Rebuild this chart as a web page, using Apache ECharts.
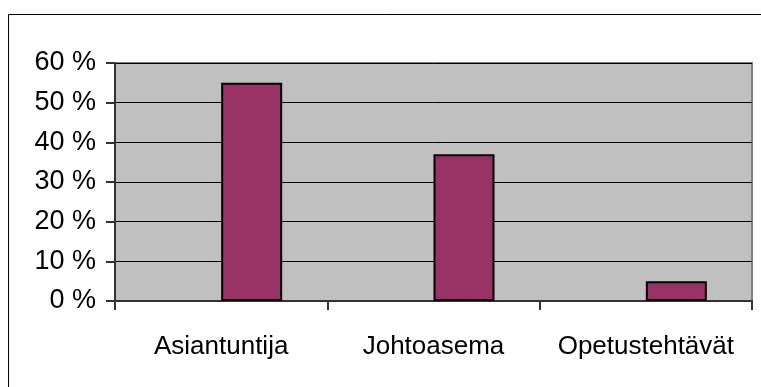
<!DOCTYPE html>
<html>
<head>
<meta charset="utf-8">
<script src="https://cdn.jsdelivr.net/npm/echarts@6/dist/echarts.min.js"></script>
<style>
  html, body { margin: 0; padding: 0; background: #fff; }
  #chart { width: 761px; height: 387px; }
</style>
</head>
<body>
<div id="chart"></div>
<script>
// kategoriat ja arvot (%)
const categories = ["Asiantuntija", "Johtoasema", "Opetustehtävät"];
const emptyValues = [null, null, null]; // tyhjä sarja, Excel-kaavion vasen paikka
const values = [55, 37, 5];
const yTicks = [0, 10, 20, 30, 40, 50, 60];

const font = "Liberation Sans, Arial, sans-serif";

let myChart = echarts.init(document.getElementById("chart"));

const option = {
  animation: false,
  graphic: [
    {
      type: "rect",
      silent: true,
      shape: { x: 8.5, y: 14.5, width: 800, height: 400 },
      style: { fill: "none", stroke: "#000", lineWidth: 1 }
    }
  ],
  grid: {
    left: 115,
    top: 63,
    right: 9,
    bottom: 86,
    show: true,
    backgroundColor: "#C0C0C0",
    borderColor: "#808080",
    borderWidth: 2
  },
  xAxis: {
    type: "category",
    data: categories,
    axisLine: { lineStyle: { color: "#333", width: 2 } },
    axisTick: { show: true, length: 9, alignWithLabel: false, lineStyle: { color: "#333", width: 2 } },
    axisLabel: { interval: 0, color: "#000", fontSize: 26, fontFamily: font, margin: 33 },
    splitLine: { show: false }
  },
  yAxis: {
    type: "value",
    min: yTicks[0],
    max: yTicks[yTicks.length - 1],
    interval: 10,
    axisLine: { show: true, lineStyle: { color: "#333", width: 2 } },
    axisTick: { show: true, length: 9, lineStyle: { color: "#333", width: 2 } },
    axisLabel: {
      color: "#000",
      fontSize: 27,
      fontFamily: font,
      margin: 19,
      formatter: function (v) { return v + " %"; }
    },
    splitLine: { show: true, lineStyle: { color: "#000", width: 1 } }
  },
  series: [
    {
      type: "bar",
      data: emptyValues,
      barWidth: 61,
      barGap: 0,
      itemStyle: { color: "#993366" }
    },
    {
      type: "bar",
      data: values,
      barWidth: 61,
      barGap: 0,
      itemStyle: { color: "#993366", borderColor: "#000", borderWidth: 2 }
    }
  ]
};

myChart.setOption(option);
</script>
</body>
</html>
